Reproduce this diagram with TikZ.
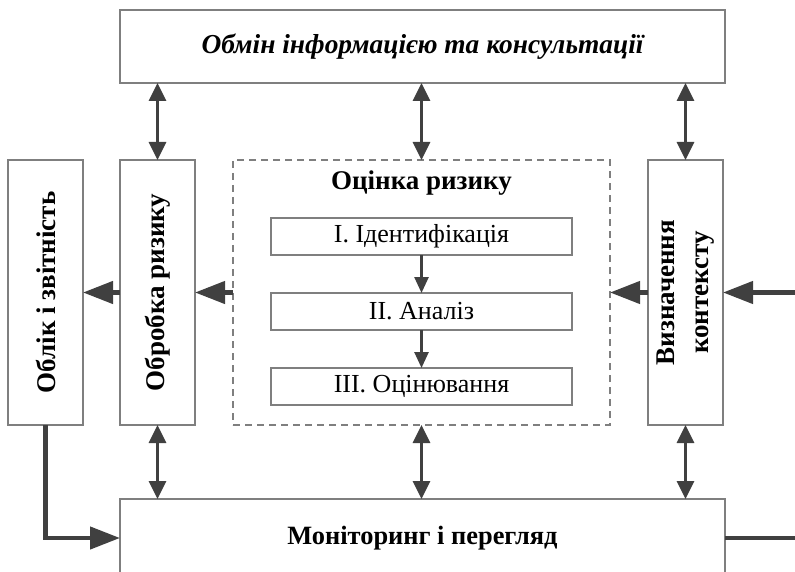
\documentclass[tikz,border=0pt]{standalone}
\usepackage{fontspec}
\setmainfont{Liberation Serif}
\usetikzlibrary{positioning, arrows.meta}
\definecolor{arrowgray}{HTML}{404040}
\definecolor{boxgray}{HTML}{7F7F7F}

\begin{document}
\begin{tikzpicture}[x=0.5pt, y=-0.5pt,
  plainbox/.style={draw=boxgray, line width=0.6pt, outer sep=0pt, inner sep=0pt},
  sidebox/.style={plainbox, minimum width=37.5pt, minimum height=132.5pt},
  stagebox/.style={plainbox, minimum width=150.5pt, minimum height=18.5pt, font=\fontsize{13}{15}\selectfont},
  sidetext/.style={rotate=90, align=center, font=\fontsize{13.5}{17}\selectfont\bfseries},
  twoway/.style={{Triangle[length=9pt,width=8.5pt]}-{Triangle[length=9pt,width=8.5pt]}, draw=arrowgray, line width=1.6pt},
  mainflow/.style={-{Triangle[length=15pt,width=11pt]}, draw=arrowgray, line width=2.2pt},
  stagearrow/.style={-{Triangle[length=8pt,width=7pt]}, draw=arrowgray, line width=1.3pt}]
\clip (0,0) rectangle (795,571);

\node (consult) [plainbox, anchor=north west, minimum width=302.5pt, minimum height=36.5pt,
    font=\fontsize{13.7}{17}\selectfont\bfseries\itshape] at (120,10) {Обмін інформацією та консультації};

\node (oblik) [sidebox, anchor=north west, label={[sidetext]center:Облік і звітність}] at (8,160) {};
\node (obrobka) [sidebox, right=18.5pt of oblik, label={[sidetext]center:Обробка ризику}] {};
\node (otsinka) [plainbox, dashed, dash pattern=on 3.5pt off 2.5pt, minimum width=188.5pt,
    minimum height=132.5pt, right=19pt of obrobka] {};
\node (kontekst) [sidebox, right=19pt of otsinka, label={[sidetext]center:Визначення\\контексту}] {};

\node (otsTitle) [font=\fontsize{13.5}{16}\selectfont\bfseries, below=2pt of otsinka.north] {Оцінка ризику};
\node (ident) [stagebox, below=29pt of otsinka.north] {I. Ідентифікація};
\node (analiz) [stagebox, below=19pt of ident] {II. Аналіз};
\node (otsin) [stagebox, below=19pt of analiz] {III. Оцінювання};

\node (monit) [plainbox, anchor=north west, minimum width=302.5pt, minimum height=39pt,
    font=\fontsize{13.2}{17}\selectfont\bfseries] at (120,499) {Моніторинг і перегляд};

\coordinate (ctxIn) at (795,292.5);
\coordinate (monOut) at (795,538);

% links to the exchange and monitoring boxes
\draw[twoway] (obrobka.north) -- (obrobka.north |- consult.south);
\draw[twoway] (otsinka.north) -- (otsinka.north |- consult.south);
\draw[twoway] (kontekst.north) -- (kontekst.north |- consult.south);
\draw[twoway] (obrobka.south) -- (obrobka.south |- monit.north);
\draw[twoway] (otsinka.south) -- (otsinka.south |- monit.north);
\draw[twoway] (kontekst.south) -- (kontekst.south |- monit.north);

% inside the assessment
\draw[stagearrow] (ident.south) -- (analiz.north);
\draw[stagearrow] (analiz.south) -- (otsin.north);

% main flow, right to left
\draw[mainflow] (ctxIn) -- (kontekst.east);
\draw[mainflow] (kontekst.west) -- (otsinka.east);
\draw[mainflow] (otsinka.west) -- (obrobka.east);
\draw[mainflow] (obrobka.west) -- (oblik.east);
\draw[mainflow] (oblik.south) |- (monit.west);
\draw[draw=arrowgray, line width=1.8pt] (monit.east) -- (monOut);

\end{tikzpicture}
\end{document}
